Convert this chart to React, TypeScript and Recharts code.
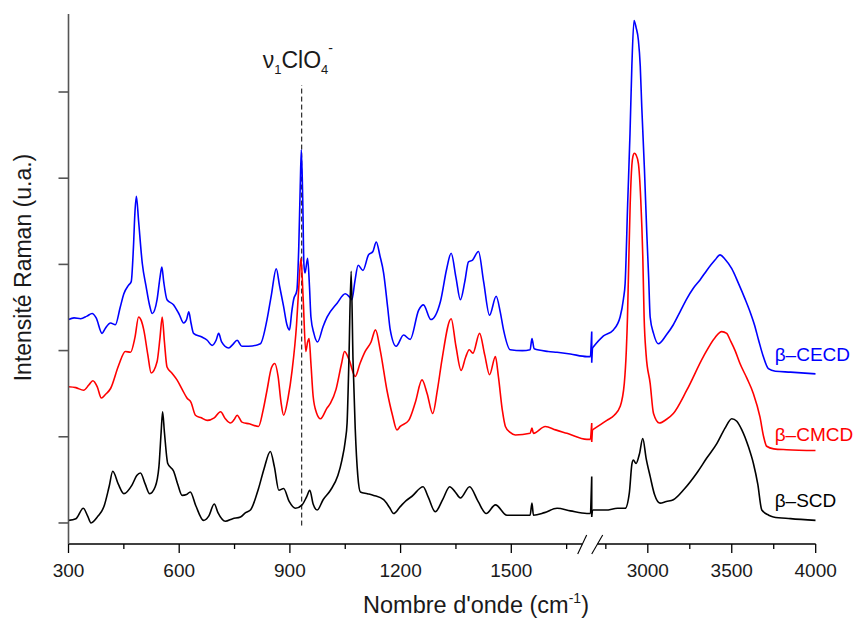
import { LineChart, Line, XAxis, YAxis, ReferenceLine, ReferenceDot } from 'recharts'

const FONT = '"Liberation Sans", Arial, Helvetica, sans-serif'

// axe x coupé : 300–1718 cm-1 à gauche, 2666–4000 cm-1 à droite (échelle réduite)
const BREAK_LEFT = 1718
const BREAK_RIGHT = 2666
const RIGHT_SCALE = 0.455
const toU = (w: number) => (w <= BREAK_LEFT ? w : BREAK_LEFT + (w - BREAK_RIGHT) * RIGHT_SCALE)

const X_MIN = 300
const X_MAX = toU(4000)
const Y_MIN = -0.244
const Y_MAX = 5.905

const majorTicks = [300, 600, 900, 1200, 1500, 3000, 3500, 4000]
const minorTicks = [450, 750, 1050, 1350, 1650, 2750, 3250, 3750]
const yTicks = [0, 1, 2, 3, 4, 5]

const clo4Band = 932

// β-SCD (noir)
const scdLeft: [number, number][] = [
  [300, 0.03], [320, 0.05], [340, 0.17], [352, 0.08], [361, 0.0], [380, 0.08], [396, 0.19], [410, 0.42],
  [420, 0.6], [435, 0.45], [450, 0.34], [472, 0.44], [485, 0.55], [495, 0.58], [508, 0.45], [520, 0.34],
  [535, 0.42], [545, 0.65], [551, 1.05], [555, 1.29], [560, 1.05], [569, 0.69], [585, 0.6], [596, 0.45],
  [608, 0.32], [620, 0.33], [630, 0.36], [645, 0.2], [666, 0.03], [680, 0.08], [695, 0.22], [705, 0.12],
  [725, 0.02], [745, 0.05], [766, 0.07], [780, 0.12], [793, 0.15], [815, 0.4], [830, 0.63], [847, 0.83],
  [858, 0.65], [870, 0.38], [883, 0.4], [898, 0.25], [915, 0.17], [933, 0.21], [945, 0.3], [954, 0.38],
  [963, 0.22], [974, 0.15], [990, 0.27], [1010, 0.38], [1030, 0.55], [1041, 0.73], [1050, 0.95], [1055, 1.16],
  [1060, 1.9], [1066, 2.92], [1071, 1.9], [1077, 1.1], [1084, 0.55], [1091, 0.36], [1110, 0.34], [1127, 0.32],
  [1154, 0.27], [1170, 0.18], [1181, 0.11], [1199, 0.19], [1215, 0.26], [1231, 0.31], [1261, 0.42], [1275, 0.3],
  [1294, 0.13], [1315, 0.28], [1333, 0.42], [1348, 0.36], [1362, 0.29], [1387, 0.42], [1410, 0.25], [1432, 0.11],
  [1457, 0.21], [1488, 0.09], [1530, 0.09], [1551, 0.09], [1556, 0.23], [1560, 0.09], [1590, 0.12], [1624, 0.17],
  [1660, 0.14], [1705, 0.11], [1715, 0.11],
]
const scdJump = [0.54, 0.07]
const scdRight: [number, number][] = [
  [2670, 0.15], [2750, 0.15], [2820, 0.17], [2865, 0.17], [2890, 0.35], [2905, 0.68], [2914, 0.73], [2930, 0.69],
  [2950, 0.8], [2970, 0.98], [2990, 0.75], [3014, 0.54], [3040, 0.33], [3073, 0.23], [3110, 0.25], [3152, 0.27],
  [3220, 0.4], [3292, 0.58], [3350, 0.75], [3411, 0.92], [3460, 1.1], [3500, 1.21], [3530, 1.18], [3560, 1.08],
  [3600, 0.88], [3629, 0.69], [3655, 0.45], [3679, 0.15], [3720, 0.09], [3748, 0.07], [3850, 0.05], [4000, 0.03],
]

// β-CMCD (rouge)
const cmcdLeft: [number, number][] = [
  [300, 1.58], [320, 1.57], [341, 1.54], [355, 1.6], [366, 1.65], [378, 1.58], [389, 1.45], [400, 1.49],
  [414, 1.56], [436, 1.83], [454, 1.99], [468, 1.98], [480, 2.15], [490, 2.39], [497, 2.35], [504, 2.24],
  [515, 1.95], [524, 1.74], [540, 1.87], [548, 2.15], [554, 2.39], [560, 2.1], [567, 1.81], [580, 1.74],
  [594, 1.66], [608, 1.55], [621, 1.45], [632, 1.4], [644, 1.25], [660, 1.22], [676, 1.19], [695, 1.22],
  [712, 1.29], [725, 1.21], [739, 1.16], [749, 1.2], [757, 1.25], [770, 1.17], [790, 1.15], [815, 1.12],
  [827, 1.3], [838, 1.54], [850, 1.8], [859, 1.85], [868, 1.7], [876, 1.4], [883, 1.25], [895, 1.45],
  [906, 1.77], [918, 2.3], [925, 2.8], [930, 3.07], [936, 2.6], [943, 1.99], [948, 2.1], [952, 2.14],
  [957, 1.85], [963, 1.47], [972, 1.28], [983, 1.21], [1000, 1.33], [1010, 1.39], [1025, 1.55], [1040, 1.85],
  [1048, 1.99], [1060, 1.9], [1077, 1.7], [1090, 1.85], [1104, 1.99], [1120, 2.1], [1132, 2.24], [1145, 2.0],
  [1163, 1.54], [1178, 1.25], [1190, 1.08], [1199, 1.12], [1222, 1.19], [1240, 1.4], [1258, 1.66], [1272, 1.5],
  [1287, 1.27], [1300, 1.55], [1312, 1.89], [1337, 2.37], [1350, 2.05], [1364, 1.77], [1376, 1.92], [1386, 2.01],
  [1396, 1.97], [1414, 2.2], [1428, 1.95], [1441, 1.72], [1457, 1.93], [1465, 1.7], [1476, 1.3], [1484, 1.12],
  [1497, 1.05], [1511, 1.02], [1551, 1.04], [1556, 1.1], [1560, 1.04], [1592, 1.12], [1620, 1.08], [1651, 1.04],
  [1705, 0.97], [1715, 0.97],
]
const cmcdJump = [1.16, 0.94]
const cmcdRight: [number, number][] = [
  [2670, 1.08], [2756, 1.19], [2800, 1.25], [2835, 1.35], [2860, 1.62], [2872, 2.0], [2879, 2.39], [2885, 2.9],
  [2895, 3.7], [2905, 4.15], [2911, 4.25], [2920, 4.29], [2930, 4.27], [2944, 4.17], [2958, 3.75], [2970, 3.1],
  [2978, 2.39], [2990, 1.95], [3014, 1.62], [3034, 1.27], [3069, 1.16], [3110, 1.2], [3152, 1.27], [3232, 1.54],
  [3331, 1.93], [3400, 2.15], [3440, 2.22], [3470, 2.2], [3491, 2.12], [3520, 2.0], [3549, 1.85], [3590, 1.68],
  [3629, 1.5], [3668, 1.23], [3690, 1.0], [3708, 0.89], [3750, 0.86], [3827, 0.85], [4000, 0.84],
]

// β-CECD (bleu)
const cecdLeft: [number, number][] = [
  [300, 2.36], [315, 2.38], [333, 2.37], [350, 2.4], [364, 2.43], [375, 2.38], [391, 2.2], [400, 2.26],
  [414, 2.32], [427, 2.3], [440, 2.5], [450, 2.66], [463, 2.76], [470, 2.8], [476, 3.2], [480, 3.6],
  [484, 3.79], [490, 3.5], [500, 3.01], [510, 2.75], [520, 2.52], [527, 2.43], [540, 2.59], [548, 2.85],
  [553, 2.97], [558, 2.8], [567, 2.59], [585, 2.53], [600, 2.42], [612, 2.32], [620, 2.36], [626, 2.45],
  [632, 2.32], [639, 2.2], [660, 2.16], [676, 2.12], [689, 2.06], [700, 2.12], [707, 2.2], [715, 2.1],
  [734, 2.03], [745, 2.07], [757, 2.12], [770, 2.05], [788, 2.05], [820, 2.08], [838, 2.36], [850, 2.65],
  [863, 2.95], [872, 2.75], [883, 2.51], [892, 2.3], [899, 2.24], [905, 2.45], [910, 2.59], [919, 2.7],
  [924, 3.2], [928, 3.9], [931, 4.33], [935, 3.7], [938, 3.0], [941, 2.9], [948, 3.07], [953, 2.75],
  [957, 2.39], [965, 2.2], [975, 2.1], [990, 2.28], [1001, 2.39], [1028, 2.55], [1050, 2.66], [1062, 2.62],
  [1068, 2.59], [1076, 2.8], [1085, 2.99], [1098, 2.93], [1113, 3.11], [1125, 3.15], [1134, 3.26], [1144, 3.1],
  [1154, 2.9], [1165, 2.5], [1172, 2.24], [1188, 2.05], [1208, 2.18], [1226, 2.13], [1249, 2.47], [1262, 2.53],
  [1282, 2.36], [1308, 2.57], [1325, 2.95], [1337, 3.13], [1350, 2.85], [1362, 2.59], [1374, 2.8], [1384, 3.03],
  [1395, 3.05], [1411, 3.15], [1425, 2.8], [1441, 2.41], [1459, 2.63], [1470, 2.45], [1479, 2.24], [1497, 2.01],
  [1530, 2.0], [1551, 2.01], [1556, 2.14], [1562, 2.02], [1600, 1.99], [1624, 1.98], [1660, 1.96], [1705, 1.93],
  [1715, 1.93],
]
const cecdJump = [2.22, 1.86]
const cecdRight: [number, number][] = [
  [2670, 2.03], [2736, 2.17], [2795, 2.24], [2835, 2.39], [2855, 2.6], [2865, 2.78], [2880, 3.7], [2894, 4.52],
  [2905, 5.3], [2918, 5.83], [2930, 5.75], [2944, 5.6], [2955, 5.3], [2964, 4.83], [2980, 4.1], [2994, 3.36],
  [3005, 2.85], [3014, 2.39], [3034, 2.2], [3063, 2.08], [3110, 2.18], [3152, 2.3], [3192, 2.45], [3232, 2.6],
  [3270, 2.72], [3311, 2.82], [3351, 2.93], [3400, 3.05], [3430, 3.11], [3460, 3.06], [3500, 2.95], [3540, 2.78],
  [3579, 2.6], [3609, 2.45], [3635, 2.3], [3660, 2.12], [3688, 1.93], [3718, 1.79], [3760, 1.76], [3850, 1.75],
  [4000, 1.73],
]

const series = [
  { key: 'cecd', name: 'β–CECD', color: '#0000ff', left: cecdLeft, jump: cecdJump, right: cecdRight, dy: -13 },
  { key: 'cmcd', name: 'β–CMCD', color: '#ff0000', left: cmcdLeft, jump: cmcdJump, right: cmcdRight, dy: -9.6 },
  { key: 'scd', name: 'β–SCD', color: '#000000', left: scdLeft, jump: scdJump, right: scdRight, dy: -13.4 },
]

const toRows = (pts: [number, number][]) => pts.map(([w, v]) => ({ u: toU(w), v }))
const jumpRows = (left: [number, number][], jump: number[], right: [number, number][]) => {
  const last = left[left.length - 1]
  return [
    { u: toU(last[0]), v: last[1] },
    { u: BREAK_LEFT, v: jump[0] },
    { u: BREAK_LEFT, v: jump[1] },
    { u: toU(right[0][0]), v: right[0][1] },
  ]
}

const xTickList = [
  ...majorTicks.map((w) => ({ w, major: true })),
  ...minorTicks.map((w) => ({ w, major: false })),
].sort((a, b) => a.w - b.w)
const xTicks = xTickList.map((t) => toU(t.w))

function XTick(props: any) {
  const { x, y, payload } = props
  const t = xTickList.find((d) => Math.abs(toU(d.w) - payload.value) < 0.01)
  if (!t) return <g />
  return (
    <g>
      <line x1={x} x2={x} y1={y} y2={y + (t.major ? 9 : 5)} stroke="#000" strokeWidth={1.3} />
      {t.major && (
        <text x={x} y={y + 32.5} textAnchor="middle" fontSize={19} fill="#1a1a1a" fontFamily={FONT}>
          {t.w}
        </text>
      )}
    </g>
  )
}

function XTitle() {
  return (
    <text x={476} y={613} textAnchor="middle" fontSize={23.5} fill="#1a1a1a" fontFamily={FONT}>
      Nombre d'onde (cm
      <tspan fontSize={14} dy={-10}>-1</tspan>
      <tspan dy={10}>)</tspan>
    </text>
  )
}

function YTitle() {
  return (
    <text
      transform="translate(30.5, 267.5) rotate(-90)"
      textAnchor="middle"
      fontSize={23}
      fill="#1a1a1a"
      fontFamily={FONT}
    >
      Intensité Raman (u.a.)
    </text>
  )
}

function NuLabel(props: any) {
  const vb = props.viewBox || {}
  const x = (vb.x ?? 301) - 39
  const y = (vb.y ?? 85) - 17
  return (
    <text x={x} y={y} fontSize={23} fill="#1a1a1a" fontFamily={FONT}>
      ν
      <tspan fontSize={13} dy={6}>1</tspan>
      <tspan dy={-6}>ClO</tspan>
      <tspan fontSize={13} dy={6}>4</tspan>
      <tspan fontSize={14} dy={-21}>-</tspan>
    </text>
  )
}

function SeriesName(props: any) {
  const vb = props.viewBox || {}
  return (
    <text x={vb.x - 41} y={vb.y + props.dy} fontSize={19} fill={props.color} fontFamily={FONT}>
      {props.name}
    </text>
  )
}

export default function App() {
  return (
    <div style={{ position: 'absolute', left: 0, top: 0, width: 856, height: 618, background: '#fff' }}>
      <LineChart width={856} height={618} margin={{ top: 14, right: 40.3, bottom: 0, left: 0 }}>
        <XAxis
          type="number"
          dataKey="u"
          domain={[X_MIN, X_MAX]}
          allowDataOverflow
          ticks={xTicks}
          interval={0}
          height={74}
          axisLine={false}
          tickLine={false}
          tickSize={0}
          tickMargin={0}
          tick={<XTick />}
          label={<XTitle />}
        />
        <YAxis
          type="number"
          domain={[Y_MIN, Y_MAX]}
          allowDataOverflow
          ticks={yTicks}
          width={68.5}
          axisLine={{ stroke: '#555', strokeWidth: 1.6 }}
          tickLine={{ stroke: '#555', strokeWidth: 1.6 }}
          tickSize={10}
          tickFormatter={() => ''}
          label={<YTitle />}
        />

        {/* axe x interrompu + marques de coupure */}
        <ReferenceLine
          segment={[{ x: X_MIN, y: Y_MIN }, { x: 1692.7, y: Y_MIN }]}
          stroke="#000"
          strokeWidth={1.3}
          ifOverflow="visible"
        />
        <ReferenceLine
          segment={[{ x: 1733.6, y: Y_MIN }, { x: X_MAX, y: Y_MIN }]}
          stroke="#000"
          strokeWidth={1.3}
          ifOverflow="visible"
        />
        <ReferenceLine
          segment={[{ x: 1680, y: -0.36 }, { x: 1704.3, y: -0.14 }]}
          stroke="#000"
          strokeWidth={1.1}
          ifOverflow="visible"
        />
        <ReferenceLine
          segment={[{ x: 1718, y: -0.36 }, { x: 1747.7, y: -0.14 }]}
          stroke="#000"
          strokeWidth={1.1}
          ifOverflow="visible"
        />

        <ReferenceLine
          segment={[{ x: clo4Band, y: -0.03 }, { x: clo4Band, y: 5.08 }]}
          stroke="#000"
          strokeWidth={1}
          strokeDasharray="5 3"
          ifOverflow="visible"
          label={<NuLabel />}
        />

        {series.map((s) => [
          <Line
            key={s.key + '-l'}
            data={toRows(s.left)}
            dataKey="v"
            type="monotone"
            stroke={s.color}
            strokeWidth={1.6}
            dot={false}
            isAnimationActive={false}
          />,
          <Line
            key={s.key + '-j'}
            data={jumpRows(s.left, s.jump, s.right)}
            dataKey="v"
            type="linear"
            stroke={s.color}
            strokeWidth={1.6}
            dot={false}
            isAnimationActive={false}
          />,
          <Line
            key={s.key + '-r'}
            data={toRows(s.right)}
            dataKey="v"
            type="monotone"
            stroke={s.color}
            strokeWidth={1.6}
            dot={false}
            isAnimationActive={false}
          />,
        ])}

        {series.map((s) => (
          <ReferenceDot
            key={s.key + '-name'}
            x={X_MAX}
            y={s.right[s.right.length - 1][1]}
            r={0}
            fill="none"
            stroke="none"
            ifOverflow="visible"
            label={<SeriesName name={s.name} color={s.color} dy={s.dy} />}
          />
        ))}
      </LineChart>
    </div>
  )
}
